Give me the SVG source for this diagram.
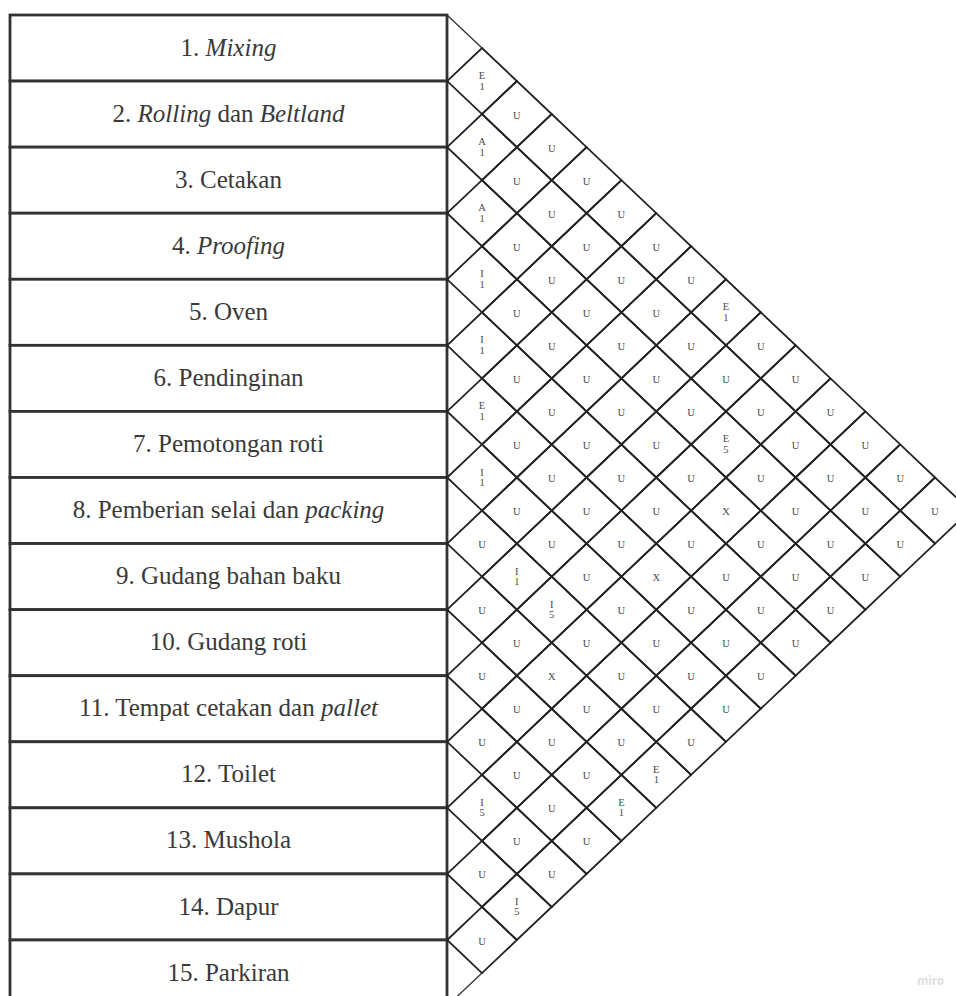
<svg xmlns="http://www.w3.org/2000/svg" width="956" height="996" viewBox="0 0 956 996">
<style>
.box{fill:#fff;stroke:#333;stroke-width:2.8}
.lbl{font-family:'Liberation Serif','Times New Roman','DejaVu Serif',serif;font-size:25px;fill:#3a3a3a;text-anchor:middle}
.it{font-style:italic}
.c{font-family:'Liberation Serif','Times New Roman','DejaVu Serif',serif;font-size:10.5px;fill:#4a4a4a;text-anchor:middle}
.edge{stroke:#333;stroke-width:1.3;fill:none}
</style>
<defs>
<path id="dm" d="M-34.85 0L0-33.04L34.85 0L0 33.04Z" fill="none" stroke="#222" stroke-width="1.8" stroke-linejoin="miter"/>
</defs>
<rect width="956" height="996" fill="#fff"/>
<g id="departments">
<g id="n1"><rect class="box" x="10" y="15" width="437" height="66.07"/><text class="lbl" x="228.5" y="55.5" font-family="Liberation Serif, serif">1. <tspan class="it">Mixing</tspan></text></g>
<g id="n2"><rect class="box" x="10" y="81.07" width="437" height="66.07"/><text class="lbl" x="228.5" y="121.6">2. <tspan class="it">Rolling</tspan> dan <tspan class="it">Beltland</tspan></text></g>
<g id="n3"><rect class="box" x="10" y="147.14" width="437" height="66.07"/><text class="lbl" x="228.5" y="187.7">3. Cetakan</text></g>
<g id="n4"><rect class="box" x="10" y="213.21" width="437" height="66.07"/><text class="lbl" x="228.5" y="253.7">4. <tspan class="it">Proofing</tspan></text></g>
<g id="n5"><rect class="box" x="10" y="279.28" width="437" height="66.07"/><text class="lbl" x="228.5" y="319.8">5. Oven</text></g>
<g id="n6"><rect class="box" x="10" y="345.35" width="437" height="66.07"/><text class="lbl" x="228.5" y="385.9">6. Pendinginan</text></g>
<g id="n7"><rect class="box" x="10" y="411.42" width="437" height="66.07"/><text class="lbl" x="228.5" y="452">7. Pemotongan roti</text></g>
<g id="n8"><rect class="box" x="10" y="477.49" width="437" height="66.07"/><text class="lbl" x="228.5" y="518">8. Pemberian selai dan <tspan class="it">packing</tspan></text></g>
<g id="n9"><rect class="box" x="10" y="543.56" width="437" height="66.07"/><text class="lbl" x="228.5" y="584.1">9. Gudang bahan baku</text></g>
<g id="n10"><rect class="box" x="10" y="609.63" width="437" height="66.07"/><text class="lbl" x="228.5" y="650.2">10. Gudang roti</text></g>
<g id="n11"><rect class="box" x="10" y="675.7" width="437" height="66.07"/><text class="lbl" x="228.5" y="716.3">11. Tempat cetakan dan <tspan class="it">pallet</tspan></text></g>
<g id="n12"><rect class="box" x="10" y="741.77" width="437" height="66.07"/><text class="lbl" x="228.5" y="782.3">12. Toilet</text></g>
<g id="n13"><rect class="box" x="10" y="807.84" width="437" height="66.07"/><text class="lbl" x="228.5" y="848.4">13. Mushola</text></g>
<g id="n14"><rect class="box" x="10" y="873.91" width="437" height="66.07"/><text class="lbl" x="228.5" y="914.5">14. Dapur</text></g>
<g id="n15"><rect class="box" x="10" y="939.98" width="437" height="66.07"/><text class="lbl" x="228.5" y="980.5">15. Parkiran</text></g>
</g>
<g id="connectors">
<path class="edge" d="M447 15L482 48.03M482 973.05L447 1006.05"/>
<g transform="translate(482,81.07)"><use href="#dm"/><text class="c" y="-2">E<tspan x="0" dy="10.5">1</tspan></text></g>
<g transform="translate(482,147.14)"><use href="#dm"/><text class="c" y="-2">A<tspan x="0" dy="10.5">1</tspan></text></g>
<g transform="translate(482,213.22)"><use href="#dm"/><text class="c" y="-2">A<tspan x="0" dy="10.5">1</tspan></text></g>
<g transform="translate(482,279.29)"><use href="#dm"/><text class="c" y="-2">I<tspan x="0" dy="10.5">1</tspan></text></g>
<g transform="translate(482,345.36)"><use href="#dm"/><text class="c" y="-2">I<tspan x="0" dy="10.5">1</tspan></text></g>
<g transform="translate(482,411.43)"><use href="#dm"/><text class="c" y="-2">E<tspan x="0" dy="10.5">1</tspan></text></g>
<g transform="translate(482,477.5)"><use href="#dm"/><text class="c" y="-2">I<tspan x="0" dy="10.5">1</tspan></text></g>
<g transform="translate(482,543.58)"><use href="#dm"/><text class="c" y="4.5">U</text></g>
<g transform="translate(482,609.65)"><use href="#dm"/><text class="c" y="4.5">U</text></g>
<g transform="translate(482,675.72)"><use href="#dm"/><text class="c" y="4.5">U</text></g>
<g transform="translate(482,741.79)"><use href="#dm"/><text class="c" y="4.5">U</text></g>
<g transform="translate(482,807.86)"><use href="#dm"/><text class="c" y="-2">I<tspan x="0" dy="10.5">5</tspan></text></g>
<g transform="translate(482,873.94)"><use href="#dm"/><text class="c" y="4.5">U</text></g>
<g transform="translate(482,940.01)"><use href="#dm"/><text class="c" y="4.5">U</text></g>
<g transform="translate(516.85,114.11)"><use href="#dm"/><text class="c" y="4.5">U</text></g>
<g transform="translate(516.85,180.18)"><use href="#dm"/><text class="c" y="4.5">U</text></g>
<g transform="translate(516.85,246.25)"><use href="#dm"/><text class="c" y="4.5">U</text></g>
<g transform="translate(516.85,312.32)"><use href="#dm"/><text class="c" y="4.5">U</text></g>
<g transform="translate(516.85,378.4)"><use href="#dm"/><text class="c" y="4.5">U</text></g>
<g transform="translate(516.85,444.47)"><use href="#dm"/><text class="c" y="4.5">U</text></g>
<g transform="translate(516.85,510.54)"><use href="#dm"/><text class="c" y="4.5">U</text></g>
<g transform="translate(516.85,576.61)"><use href="#dm"/><text class="c" y="-2">I<tspan x="0" dy="10.5">1</tspan></text></g>
<g transform="translate(516.85,642.68)"><use href="#dm"/><text class="c" y="4.5">U</text></g>
<g transform="translate(516.85,708.76)"><use href="#dm"/><text class="c" y="4.5">U</text></g>
<g transform="translate(516.85,774.83)"><use href="#dm"/><text class="c" y="4.5">U</text></g>
<g transform="translate(516.85,840.9)"><use href="#dm"/><text class="c" y="4.5">U</text></g>
<g transform="translate(516.85,906.97)"><use href="#dm"/><text class="c" y="-2">I<tspan x="0" dy="10.5">5</tspan></text></g>
<g transform="translate(551.7,147.14)"><use href="#dm"/><text class="c" y="4.5">U</text></g>
<g transform="translate(551.7,213.22)"><use href="#dm"/><text class="c" y="4.5">U</text></g>
<g transform="translate(551.7,279.29)"><use href="#dm"/><text class="c" y="4.5">U</text></g>
<g transform="translate(551.7,345.36)"><use href="#dm"/><text class="c" y="4.5">U</text></g>
<g transform="translate(551.7,411.43)"><use href="#dm"/><text class="c" y="4.5">U</text></g>
<g transform="translate(551.7,477.5)"><use href="#dm"/><text class="c" y="4.5">U</text></g>
<g transform="translate(551.7,543.58)"><use href="#dm"/><text class="c" y="4.5">U</text></g>
<g transform="translate(551.7,609.65)"><use href="#dm"/><text class="c" y="-2">I<tspan x="0" dy="10.5">5</tspan></text></g>
<g transform="translate(551.7,675.72)"><use href="#dm"/><text class="c" y="4.5">X</text></g>
<g transform="translate(551.7,741.79)"><use href="#dm"/><text class="c" y="4.5">U</text></g>
<g transform="translate(551.7,807.86)"><use href="#dm"/><text class="c" y="4.5">U</text></g>
<g transform="translate(551.7,873.94)"><use href="#dm"/><text class="c" y="4.5">U</text></g>
<g transform="translate(586.55,180.18)"><use href="#dm"/><text class="c" y="4.5">U</text></g>
<g transform="translate(586.55,246.25)"><use href="#dm"/><text class="c" y="4.5">U</text></g>
<g transform="translate(586.55,312.32)"><use href="#dm"/><text class="c" y="4.5">U</text></g>
<g transform="translate(586.55,378.4)"><use href="#dm"/><text class="c" y="4.5">U</text></g>
<g transform="translate(586.55,444.47)"><use href="#dm"/><text class="c" y="4.5">U</text></g>
<g transform="translate(586.55,510.54)"><use href="#dm"/><text class="c" y="4.5">U</text></g>
<g transform="translate(586.55,576.61)"><use href="#dm"/><text class="c" y="4.5">U</text></g>
<g transform="translate(586.55,642.68)"><use href="#dm"/><text class="c" y="4.5">U</text></g>
<g transform="translate(586.55,708.76)"><use href="#dm"/><text class="c" y="4.5">U</text></g>
<g transform="translate(586.55,774.83)"><use href="#dm"/><text class="c" y="4.5">U</text></g>
<g transform="translate(586.55,840.9)"><use href="#dm"/><text class="c" y="4.5">U</text></g>
<g transform="translate(621.4,213.22)"><use href="#dm"/><text class="c" y="4.5">U</text></g>
<g transform="translate(621.4,279.29)"><use href="#dm"/><text class="c" y="4.5">U</text></g>
<g transform="translate(621.4,345.36)"><use href="#dm"/><text class="c" y="4.5">U</text></g>
<g transform="translate(621.4,411.43)"><use href="#dm"/><text class="c" y="4.5">U</text></g>
<g transform="translate(621.4,477.5)"><use href="#dm"/><text class="c" y="4.5">U</text></g>
<g transform="translate(621.4,543.58)"><use href="#dm"/><text class="c" y="4.5">U</text></g>
<g transform="translate(621.4,609.65)"><use href="#dm"/><text class="c" y="4.5">U</text></g>
<g transform="translate(621.4,675.72)"><use href="#dm"/><text class="c" y="4.5">U</text></g>
<g transform="translate(621.4,741.79)"><use href="#dm"/><text class="c" y="4.5">U</text></g>
<g transform="translate(621.4,807.86)"><use href="#dm"/><text class="c" y="-2">E<tspan x="0" dy="10.5">1</tspan></text></g>
<g transform="translate(656.25,246.25)"><use href="#dm"/><text class="c" y="4.5">U</text></g>
<g transform="translate(656.25,312.32)"><use href="#dm"/><text class="c" y="4.5">U</text></g>
<g transform="translate(656.25,378.4)"><use href="#dm"/><text class="c" y="4.5">U</text></g>
<g transform="translate(656.25,444.47)"><use href="#dm"/><text class="c" y="4.5">U</text></g>
<g transform="translate(656.25,510.54)"><use href="#dm"/><text class="c" y="4.5">U</text></g>
<g transform="translate(656.25,576.61)"><use href="#dm"/><text class="c" y="4.5">X</text></g>
<g transform="translate(656.25,642.68)"><use href="#dm"/><text class="c" y="4.5">U</text></g>
<g transform="translate(656.25,708.76)"><use href="#dm"/><text class="c" y="4.5">U</text></g>
<g transform="translate(656.25,774.83)"><use href="#dm"/><text class="c" y="-2">E<tspan x="0" dy="10.5">1</tspan></text></g>
<g transform="translate(691.1,279.29)"><use href="#dm"/><text class="c" y="4.5">U</text></g>
<g transform="translate(691.1,345.36)"><use href="#dm"/><text class="c" y="4.5">U</text></g>
<g transform="translate(691.1,411.43)"><use href="#dm"/><text class="c" y="4.5">U</text></g>
<g transform="translate(691.1,477.5)"><use href="#dm"/><text class="c" y="4.5">U</text></g>
<g transform="translate(691.1,543.58)"><use href="#dm"/><text class="c" y="4.5">U</text></g>
<g transform="translate(691.1,609.65)"><use href="#dm"/><text class="c" y="4.5">U</text></g>
<g transform="translate(691.1,675.72)"><use href="#dm"/><text class="c" y="4.5">U</text></g>
<g transform="translate(691.1,741.79)"><use href="#dm"/><text class="c" y="4.5">U</text></g>
<g transform="translate(725.95,312.32)"><use href="#dm"/><text class="c" y="-2">E<tspan x="0" dy="10.5">1</tspan></text></g>
<g transform="translate(725.95,378.4)"><use href="#dm"/><text class="c" y="4.5">U</text></g>
<g transform="translate(725.95,444.47)"><use href="#dm"/><text class="c" y="-2">E<tspan x="0" dy="10.5">5</tspan></text></g>
<g transform="translate(725.95,510.54)"><use href="#dm"/><text class="c" y="4.5">X</text></g>
<g transform="translate(725.95,576.61)"><use href="#dm"/><text class="c" y="4.5">U</text></g>
<g transform="translate(725.95,642.68)"><use href="#dm"/><text class="c" y="4.5">U</text></g>
<g transform="translate(725.95,708.76)"><use href="#dm"/><text class="c" y="4.5">U</text></g>
<g transform="translate(760.8,345.36)"><use href="#dm"/><text class="c" y="4.5">U</text></g>
<g transform="translate(760.8,411.43)"><use href="#dm"/><text class="c" y="4.5">U</text></g>
<g transform="translate(760.8,477.5)"><use href="#dm"/><text class="c" y="4.5">U</text></g>
<g transform="translate(760.8,543.58)"><use href="#dm"/><text class="c" y="4.5">U</text></g>
<g transform="translate(760.8,609.65)"><use href="#dm"/><text class="c" y="4.5">U</text></g>
<g transform="translate(760.8,675.72)"><use href="#dm"/><text class="c" y="4.5">U</text></g>
<g transform="translate(795.65,378.4)"><use href="#dm"/><text class="c" y="4.5">U</text></g>
<g transform="translate(795.65,444.47)"><use href="#dm"/><text class="c" y="4.5">U</text></g>
<g transform="translate(795.65,510.54)"><use href="#dm"/><text class="c" y="4.5">U</text></g>
<g transform="translate(795.65,576.61)"><use href="#dm"/><text class="c" y="4.5">U</text></g>
<g transform="translate(795.65,642.68)"><use href="#dm"/><text class="c" y="4.5">U</text></g>
<g transform="translate(830.5,411.43)"><use href="#dm"/><text class="c" y="4.5">U</text></g>
<g transform="translate(830.5,477.5)"><use href="#dm"/><text class="c" y="4.5">U</text></g>
<g transform="translate(830.5,543.58)"><use href="#dm"/><text class="c" y="4.5">U</text></g>
<g transform="translate(830.5,609.65)"><use href="#dm"/><text class="c" y="4.5">U</text></g>
<g transform="translate(865.35,444.47)"><use href="#dm"/><text class="c" y="4.5">U</text></g>
<g transform="translate(865.35,510.54)"><use href="#dm"/><text class="c" y="4.5">U</text></g>
<g transform="translate(865.35,576.61)"><use href="#dm"/><text class="c" y="4.5">U</text></g>
<g transform="translate(900.2,477.5)"><use href="#dm"/><text class="c" y="4.5">U</text></g>
<g transform="translate(900.2,543.58)"><use href="#dm"/><text class="c" y="4.5">U</text></g>
<g transform="translate(935.05,510.54)"><use href="#dm"/><text class="c" y="4.5">U</text></g>
</g>
<text x="917" y="985" font-family="'Open Sans','Liberation Sans',sans-serif" font-size="11.5" font-weight="bold" fill="#dedede">miro</text>
</svg>
